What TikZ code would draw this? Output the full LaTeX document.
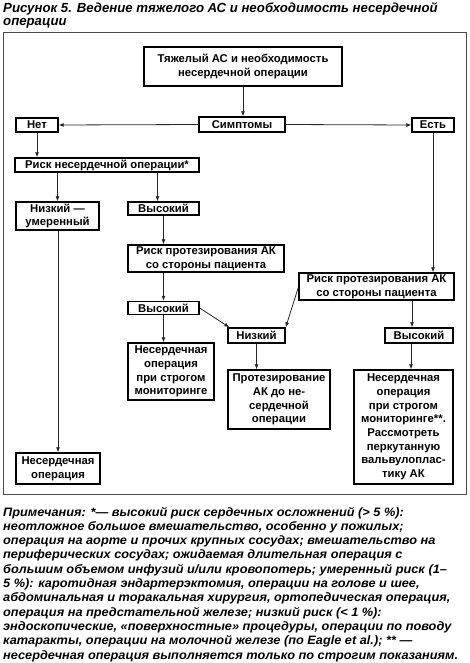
\documentclass[tikz,border=0pt]{standalone}
\usepackage{fontspec}
\setmainfont{Liberation Sans}
\newfontfamily\notefont[FakeStretch=1.045]{Liberation Sans}
\usetikzlibrary{arrows.meta,calc}
\begin{document}
\begin{tikzpicture}[x=1pt,y=-1pt,
  box/.style={draw=black,line width=1.4pt,inner sep=0pt,align=center,
    font=\fontsize{11.3}{13.7}\selectfont\bfseries},
  conn/.style={draw=black!85,line width=0.8pt,-{Latex[length=5pt,width=4pt]}},
  ttl/.style={anchor=base west,inner sep=0pt,font=\fontsize{13.2}{15}\selectfont\bfseries\itshape},
  note/.style={anchor=base west,inner sep=0pt,font=\notefont\fontsize{12.2}{14}\selectfont\bfseries\itshape}]
\useasboundingbox (0,0) rectangle (469,663);
% title
\node[ttl] (t1) at (3,13) {Рисунок 5. Ведение тяжелого АС и необходимость несердечной};
\node[ttl] (t2) at (3,26) {операции};
% frame
\draw[black!70,line width=0.8pt] (3,32) rectangle (466,494);
% boxes
\node[box,minimum width=198,minimum height=39] (top) at (243,66.5) {Тяжелый АС и необходимость\\несердечной операции};
\node[box,minimum width=86,minimum height=15] (symp) at (242,124.5) {Симптомы};
\node[box,minimum width=42,minimum height=14] (net) at (37,125) {Нет};
\node[box,minimum width=42,minimum height=14] (est) at (433,125) {Есть};
\node[box,minimum width=184,minimum height=14] (risk) at (107,165) {Риск несердечной операции*};
\node[box,minimum width=83,minimum height=28] (lowmod) at (57.5,216) {Низкий —\\умеренный};
\node[box,minimum width=71,minimum height=13] (high1) at (163.5,208.5) {Высокий};
\node[box,minimum width=156,minimum height=27] (riskL) at (206,258.5) {Риск протезирования АК\\со стороны пациента};
\node[box,minimum width=71,minimum height=13] (high2) at (163.5,308) {Высокий};
\node[box,minimum width=155,minimum height=27] (riskR) at (376.5,286.5) {Риск протезирования АК\\со стороны пациента};
\node[box,minimum width=57,minimum height=15] (low) at (256.5,335.5) {Низкий};
\node[box,minimum width=68,minimum height=15] (high3) at (419,335.5) {Высокий};
\node[box,minimum width=86,minimum height=57] (monL) at (171,371.5) {Несердечная\\операция\\при строгом\\мониторинге};
\node[box,minimum width=102,minimum height=59] (prot) at (279,399.5) {Протезирование\\АК до не-\\сердечной\\операции};
\node[box,minimum width=99,minimum height=114] (monR) at (403.5,427) {Несердечная\\операция\\при строгом\\мониторинге**.\\Рассмотреть\\перкутанную\\вальвулоплас-\\тику АК};
\node[box,minimum width=84,minimum height=31] (nonc) at (58,468.5) {Несердечная\\операция};
% connectors
\draw[conn] (top.south) -- (top.south |- symp.north);
\draw[conn] (symp.west) -- (net.east);
\draw[conn] (symp.east) -- (est.west);
\draw[conn] (net.south) -- (net.south |- risk.north);
\draw[conn] (risk.south -| lowmod.north) -- (lowmod.north);
\draw[conn] ($(risk.south -| high1.north)+(-6,0)$) -- ($(high1.north)+(-6,0)$);
\draw[conn] (est.south) -- (est.south |- riskR.north);
\draw[conn] (high1.south) -- (high1.south |- riskL.north);
\draw[conn] (high2.north |- riskL.south) -- (high2.north);
\draw[conn] (high2.east) -- ($(low.north west)+(2,0)$);
\draw[conn] ($(riskR.west)+(0,1)$) -- ($(low.north east)+(0,0)$);
\draw[conn] ($(riskR.south -| high3.north)+(-7,0)$) -- ($(high3.north)+(-7,0)$);
\draw[conn] (high2.south) -- (high2.south |- monL.north);
\draw[conn] (low.south) -- (low.south |- prot.north);
\draw[conn] ($(high3.south)+(-8,0)$) -- ($(high3.south |- monR.north)+(-8,0)$);
\draw[conn] (nonc.north |- lowmod.south) -- (nonc.north);
% notes
\node[note] (n1) at (3,516) {Примечания: *— высокий риск сердечных осложнений (> 5 \%):};
\node[note] (n2) at (3,530.3) {неотложное большое вмешательство, особенно у пожилых;};
\node[note] (n3) at (3,544.6) {операция на аорте и прочих крупных сосудах; вмешательство на};
\node[note] (n4) at (3,558.9) {периферических сосудах; ожидаемая длительная операция с};
\node[note] (n5) at (3,573.2) {большим объемом инфузий и/или кровопотерь; умеренный риск (1–};
\node[note] (n6) at (3,587.5) {5 \%): каротидная эндартерэктомия, операции на голове и шее,};
\node[note] (n7) at (3,601.8) {абдоминальная и торакальная хирургия, ортопедическая операция,};
\node[note] (n8) at (3,616.1) {операция на предстательной железе; низкий риск (< 1 \%):};
\node[note] (n9) at (3,630.4) {эндоскопические, «поверхностные» процедуры, операции по поводу};
\node[note] (n10) at (3,644.7) {катаракты, операции на молочной железе (по Eagle et al.); ** —};
\node[note] (n11) at (3,659) {несердечная операция выполняется только по строгим показаниям.};
\end{tikzpicture}
\end{document}
